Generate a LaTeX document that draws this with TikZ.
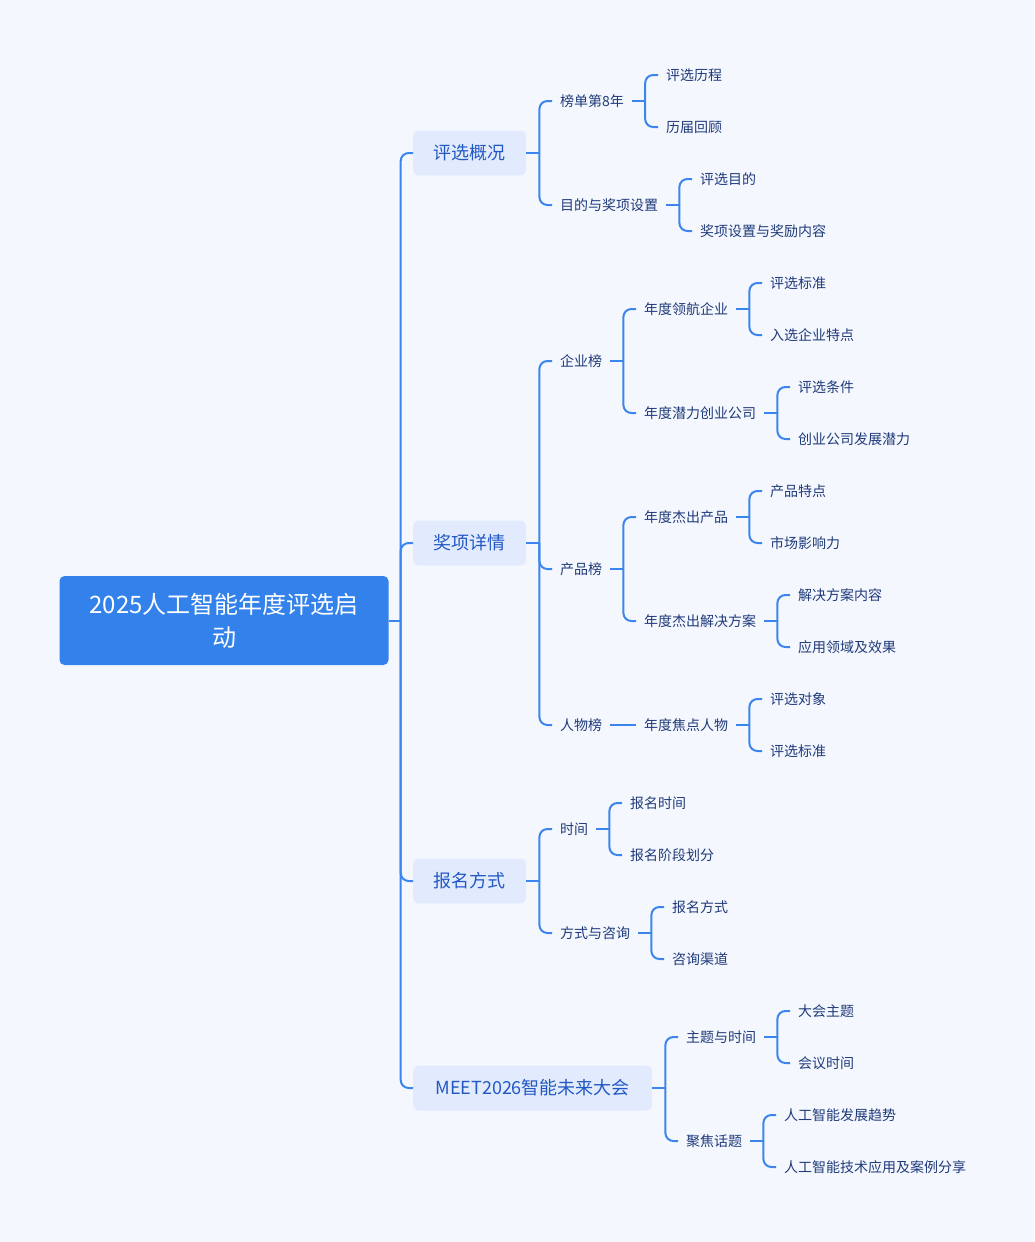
\documentclass[tikz,border=0pt]{standalone}
\usepackage{fontspec}
\setmainfont{Noto Sans CJK SC}
\usepackage{tikz}
\usetikzlibrary{positioning}
\definecolor{bgcol}{HTML}{F5F7FE}
\definecolor{rootcol}{HTML}{3381EB}
\definecolor{topiccol}{HTML}{E2EBFD}
\definecolor{topictext}{HTML}{2258C4}
\definecolor{leaftext}{HTML}{1F3B7A}
\definecolor{linecol}{HTML}{3A86EE}
\tikzset{
root/.style = {draw=none, fill=rootcol, rectangle, rounded corners=5pt, text=white, align=center,
  minimum width=329pt, minimum height=89pt, font=\fontsize{24}{33}\selectfont},
topic/.style = {fill=topiccol, rectangle, rounded corners=6pt, text=topictext, anchor=west,
  inner xsep=20.5pt, minimum height=45pt, font=\fontsize{18}{22}\selectfont},
leaf/.style = {anchor=west, inner xsep=8pt, inner ysep=2pt, text=leaftext, font=\fontsize{14}{17}\selectfont},
link/.style = {draw=linecol, line width=2pt},
elbow/.style = {link, rounded corners=8pt}
}
\begin{document}
\begin{tikzpicture}[x=1pt, y=-1pt]
    % background and page size
    \fill [bgcol] (0,0) rectangle (1034,1242);
    \useasboundingbox (0,0) rectangle (1034,1242);

    % We start by placing the root and the four topics
    \node [root] (R) at (224,620.5) {2025人工智能年度评选启\\动};
    \node [topic] (T1) at (413,153) {评选概况};
    \node [topic] (T2) at (413,543) {奖项详情};
    \node [topic] (T3) at (413,881) {报名方式};
    \node [topic, minimum width=239pt] (T4) at (413,1088) {MEET2026智能未来大会};

    % 评选概况
    \node [leaf] (A1) at (552,101) {榜单第8年};
    \node [leaf] (A11) at (658,75) {评选历程};
    \node [leaf] (A12) at (658,127) {历届回顾};
    \node [leaf] (A2) at (552,205) {目的与奖项设置};
    \node [leaf] (A21) at (692,179) {评选目的};
    \node [leaf] (A22) at (692,231) {奖项设置与奖励内容};

    % 奖项详情
    \node [leaf] (B1) at (552,361) {企业榜};
    \node [leaf] (B11) at (636,309) {年度领航企业};
    \node [leaf] (B111) at (762,283) {评选标准};
    \node [leaf] (B112) at (762,335) {入选企业特点};
    \node [leaf] (B12) at (636,413) {年度潜力创业公司};
    \node [leaf] (B121) at (790,387) {评选条件};
    \node [leaf] (B122) at (790,439) {创业公司发展潜力};
    \node [leaf] (B2) at (552,569) {产品榜};
    \node [leaf] (B21) at (636,517) {年度杰出产品};
    \node [leaf] (B211) at (762,491) {产品特点};
    \node [leaf] (B212) at (762,543) {市场影响力};
    \node [leaf] (B22) at (636,621) {年度杰出解决方案};
    \node [leaf] (B221) at (790,595) {解决方案内容};
    \node [leaf] (B222) at (790,647) {应用领域及效果};
    \node [leaf] (B3) at (552,725) {人物榜};
    \node [leaf] (B31) at (636,725) {年度焦点人物};
    \node [leaf] (B311) at (762,699) {评选对象};
    \node [leaf] (B312) at (762,751) {评选标准};

    % 报名方式
    \node [leaf] (C1) at (552,829) {时间};
    \node [leaf] (C11) at (622,803) {报名时间};
    \node [leaf] (C12) at (622,855) {报名阶段划分};
    \node [leaf] (C2) at (552,933) {方式与咨询};
    \node [leaf] (C21) at (664,907) {报名方式};
    \node [leaf] (C22) at (664,959) {咨询渠道};

    % MEET2026智能未来大会
    \node [leaf] (D1) at (678,1037) {主题与时间};
    \node [leaf] (D11) at (790,1011) {大会主题};
    \node [leaf] (D12) at (790,1063) {会议时间};
    \node [leaf] (D2) at (678,1141) {聚焦话题};
    \node [leaf] (D21) at (776,1115) {人工智能发展趋势};
    \node [leaf] (D22) at (776,1167) {人工智能技术应用及案例分享};

    % connectors: a short stub, then a rounded bracket to each child
    \draw [link] (R.east) -- ++(12,0);
    \foreach \c in {T1,T2,T3,T4}
        \draw [elbow] ([xshift=12pt]R.east) |- (\c.west);

    \foreach \p/\cs in {T1/{A1,A2}, A1/{A11,A12}, A2/{A21,A22},
                        T2/{B1,B2,B3}, B1/{B11,B12}, B11/{B111,B112}, B12/{B121,B122},
                        B2/{B21,B22}, B21/{B211,B212}, B22/{B221,B222},
                        B31/{B311,B312},
                        T3/{C1,C2}, C1/{C11,C12}, C2/{C21,C22},
                        T4/{D1,D2}, D1/{D11,D12}, D2/{D21,D22}} {
        \draw [link] (\p.east) -- ++(13,0);
        \foreach \c in \cs
            \draw [elbow] ([xshift=13pt]\p.east) |- (\c.west);
    }
    % single child: straight line
    \draw [link] (B3.east) -- (B31.west);
\end{tikzpicture}
\end{document}
